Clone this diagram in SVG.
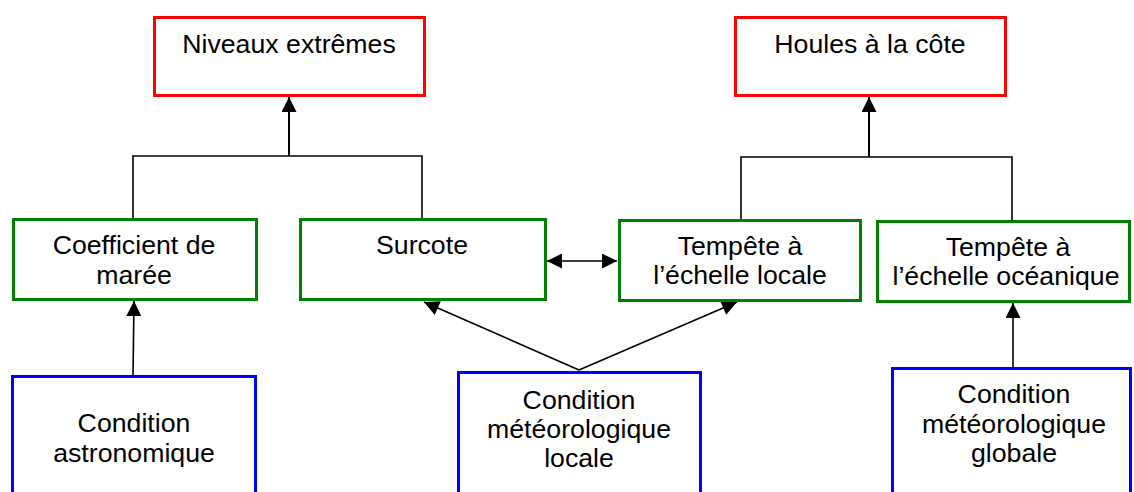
<svg xmlns="http://www.w3.org/2000/svg" width="1134" height="492" viewBox="0 0 1134 492">
  <defs>
    <marker id="head" viewBox="0 0 16 16" refX="16" refY="8" markerWidth="16" markerHeight="15" markerUnits="userSpaceOnUse" orient="auto-start-reverse">
      <path d="M0,0 L16,8 L0,16 Z" fill="#000"/>
    </marker>
    <style>
      .box { fill: #fff; stroke-width: 3; }
      .red { stroke: #ff0000; }
      .green { stroke: #008000; }
      .blue { stroke: #0000ff; }
      .lbl { font-family: "Liberation Sans", Arial, sans-serif; font-size: 26.7px; fill: #000; text-anchor: middle; }
      .wire { fill: none; stroke: #000; stroke-width: 1.6; }
      .arr { fill: none; stroke: #000; stroke-width: 2; }
    </style>
  </defs>
  <rect width="1134" height="492" fill="#fff"/>

  <g id="connectors">
    <!-- joins to "Niveaux extrêmes" -->
    <polyline class="wire" points="133,219 133,156 422,156 422,219"/>
    <line class="arr" x1="289" y1="156" x2="289" y2="97" marker-end="url(#head)"/>
    <!-- joins to "Houles à la côte" -->
    <polyline class="wire" points="741,220 741,157 1012,157 1012,221"/>
    <line class="arr" x1="869" y1="157" x2="869" y2="97" marker-end="url(#head)"/>
    <!-- surcote <-> local storm -->
    <line class="wire" x1="547" y1="261" x2="617" y2="261" marker-start="url(#head)" marker-end="url(#head)"/>
    <!-- astronomical condition -> tide coefficient -->
    <line class="wire" x1="133" y1="376" x2="134" y2="301" marker-end="url(#head)"/>
    <!-- local weather -> surcote / local storm -->
    <line class="wire" x1="579" y1="370" x2="424" y2="302" marker-end="url(#head)"/>
    <line class="wire" x1="579" y1="370" x2="737" y2="302" marker-end="url(#head)"/>
    <!-- global weather -> ocean storm -->
    <line class="wire" x1="1013" y1="368" x2="1013" y2="303" marker-end="url(#head)"/>
  </g>

  <g id="niveaux-extremes">
    <rect class="box red" x="154.5" y="17.5" width="270" height="78"/>
    <text class="lbl" x="289" y="53">Niveaux extrêmes</text>
  </g>
  <g id="houles-cote">
    <rect class="box red" x="735.5" y="17.5" width="270" height="78"/>
    <text class="lbl" x="870" y="53">Houles à la côte</text>
  </g>

  <g id="coefficient-maree">
    <rect class="box green" x="13.5" y="219.5" width="243" height="80"/>
    <text class="lbl" x="134" y="254">Coefficient de</text>
    <text class="lbl" x="134" y="284">marée</text>
  </g>
  <g id="surcote">
    <rect class="box green" x="300.5" y="219.5" width="245" height="80"/>
    <text class="lbl" x="422" y="254">Surcote</text>
  </g>
  <g id="tempete-locale">
    <rect class="box green" x="619.5" y="220.5" width="241" height="80"/>
    <text class="lbl" x="740" y="255">Tempête à</text>
    <text class="lbl" x="740" y="284">l’échelle locale</text>
  </g>
  <g id="tempete-oceanique">
    <rect class="box green" x="877.5" y="221.5" width="252" height="80"/>
    <text class="lbl" x="1008" y="256">Tempête à</text>
    <text class="lbl" x="1006" y="285">l’échelle océanique</text>
  </g>

  <g id="condition-astronomique">
    <rect class="box blue" x="12.5" y="376.5" width="243" height="130"/>
    <text class="lbl" x="134" y="432">Condition</text>
    <text class="lbl" x="134" y="462">astronomique</text>
  </g>
  <g id="condition-meteo-locale">
    <rect class="box blue" x="458.5" y="372.5" width="242" height="130"/>
    <text class="lbl" x="579" y="409">Condition</text>
    <text class="lbl" x="579" y="438">météorologique</text>
    <text class="lbl" x="579" y="467">locale</text>
  </g>
  <g id="condition-meteo-globale">
    <rect class="box blue" x="892.5" y="368.5" width="238" height="130"/>
    <text class="lbl" x="1014" y="403">Condition</text>
    <text class="lbl" x="1014" y="433">météorologique</text>
    <text class="lbl" x="1014" y="462">globale</text>
  </g>
</svg>
